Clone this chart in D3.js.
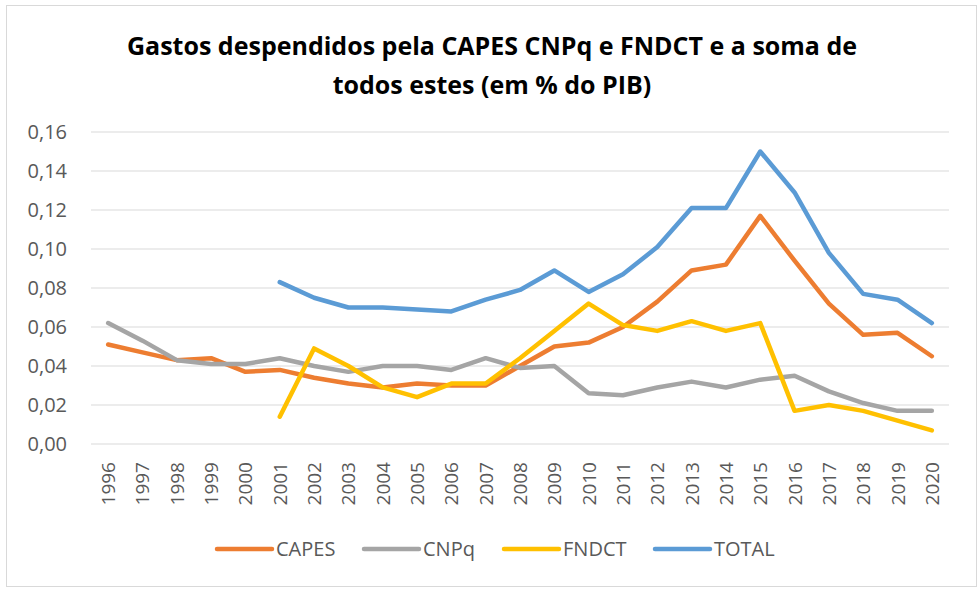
<!DOCTYPE html>
<html>
<head>
<meta charset="utf-8">
<script src="https://cdn.jsdelivr.net/npm/d3@7"></script>
<style>
	body { margin: 0; background: #fff; }
	svg { display: block; }
</style>
</head>
<body>
<svg id="chart" width="980" height="589"></svg>
<script>

	var years = ["1996","1997","1998","1999","2000","2001","2002","2003","2004","2005","2006","2007","2008","2009","2010","2011","2012","2013","2014","2015","2016","2017","2018","2019","2020"];

	var capes = [0.051, 0.047, 0.043, 0.044, 0.037, 0.038, 0.034, 0.031, 0.029, 0.031, 0.030, 0.030, 0.040, 0.050, 0.052, 0.060, 0.073, 0.089, 0.092, 0.117, 0.094, 0.072, 0.056, 0.057, 0.045];
	var cnpq = [0.062, 0.053, 0.043, 0.041, 0.041, 0.044, 0.040, 0.037, 0.040, 0.040, 0.038, 0.044, 0.039, 0.040, 0.026, 0.025, 0.029, 0.032, 0.029, 0.033, 0.035, 0.027, 0.021, 0.017, 0.017];
	var fndct = [null, null, null, null, null, 0.014, 0.049, 0.040, 0.029, 0.024, 0.031, 0.031, 0.044, 0.058, 0.072, 0.061, 0.058, 0.063, 0.058, 0.062, 0.017, 0.020, 0.017, 0.012, 0.007];
	var total = [null, null, null, null, null, 0.083, 0.075, 0.070, 0.070, 0.069, 0.068, 0.074, 0.079, 0.089, 0.078, 0.087, 0.101, 0.121, 0.121, 0.150, 0.129, 0.098, 0.077, 0.074, 0.062];

	var yTicks = [0, 0.02, 0.04, 0.06, 0.08, 0.10, 0.12, 0.14, 0.16];

	var seriesNames = ["CAPES", "CNPq", "FNDCT", "TOTAL"];
	var seriesValues = [capes, cnpq, fndct, total];
	var colors = ["#ED7D31", "#A5A5A5", "#FFC000", "#5B9BD5"];

	var svg = d3.select("#chart");
	var font = "'Open Sans', 'Liberation Sans', sans-serif";

	// outer frame
	svg.append("rect")
		.attr("x", 6.5).attr("y", 5.5)
		.attr("width", 970).attr("height", 581)
		.style("fill", "#fff")
		.style("stroke", "#d9d9d9");

	// title
	var title = svg.append("text")
		.attr("text-anchor", "middle")
		.style("font-family", font)
		.style("font-size", "25px")
		.style("font-weight", "bold")
		.style("fill", "#000");
	title.append("tspan").attr("x", 492).attr("y", 55).text("Gastos despendidos pela CAPES CNPq e FNDCT e a soma de");
	title.append("tspan").attr("x", 492).attr("y", 94).text("todos estes (em % do PIB)");

	var x = d3.scalePoint()
		.domain(years)
		.range([91, 949])
		.padding(0.5);

	var y = d3.scaleLinear()
		.domain([0, 0.16])
		.range([444, 132]);

	// gridlines
	svg.selectAll(".grid")
		.data(yTicks)
		.enter().append("line")
		.attr("class", "grid")
		.attr("x1", 91).attr("x2", 949)
		.attr("y1", function (d) { return y(d); })
		.attr("y2", function (d) { return y(d); })
		.style("stroke", "#d9d9d9")
		.style("stroke-width", 1.2);

	// y labels
	svg.selectAll(".ylab")
		.data(yTicks)
		.enter().append("text")
		.attr("class", "ylab")
		.attr("x", 67)
		.attr("y", function (d) { return y(d) + 7; })
		.attr("text-anchor", "end")
		.style("font-family", font)
		.style("font-size", "20px")
		.style("fill", "#595959")
		.text(function (d) { return d3.format(".2f")(d).replace(".", ","); });

	// x labels
	svg.selectAll(".xlab")
		.data(years)
		.enter().append("text")
		.attr("class", "xlab")
		.attr("transform", function (d) { return "translate(" + (x(d) + 7) + ",462) rotate(-90)"; })
		.attr("text-anchor", "end")
		.style("font-family", font)
		.style("font-size", "19px")
		.style("fill", "#595959")
		.text(function (d) { return d; });

	var line = d3.line()
		.defined(function (d) { return d != null; })
		.x(function (d, i) { return x(years[i]); })
		.y(function (d) { return y(d); });

	svg.selectAll(".series")
		.data(seriesValues)
		.enter().append("path")
		.attr("class", "series")
		.attr("d", line)
		.style("fill", "none")
		.style("stroke", function (d, i) { return colors[i]; })
		.style("stroke-width", 4.5)
		.style("stroke-linejoin", "round")
		.style("stroke-linecap", "round");

	// legend
	var legendX = [217, 364, 504, 655];
	var legend = svg.selectAll(".legend")
		.data(seriesNames)
		.enter().append("g")
		.attr("class", "legend")
		.attr("transform", function (d, i) { return "translate(" + legendX[i] + ",549)"; });
	legend.append("line")
		.attr("x1", 0).attr("x2", 55)
		.style("stroke", function (d, i) { return colors[i]; })
		.style("stroke-width", 4.5)
		.style("stroke-linecap", "round");
	legend.append("text")
		.attr("x", 59).attr("y", 7)
		.style("font-family", font)
		.style("font-size", "20px")
		.style("fill", "#595959")
		.text(function (d) { return d; });

</script>
</body>
</html>
